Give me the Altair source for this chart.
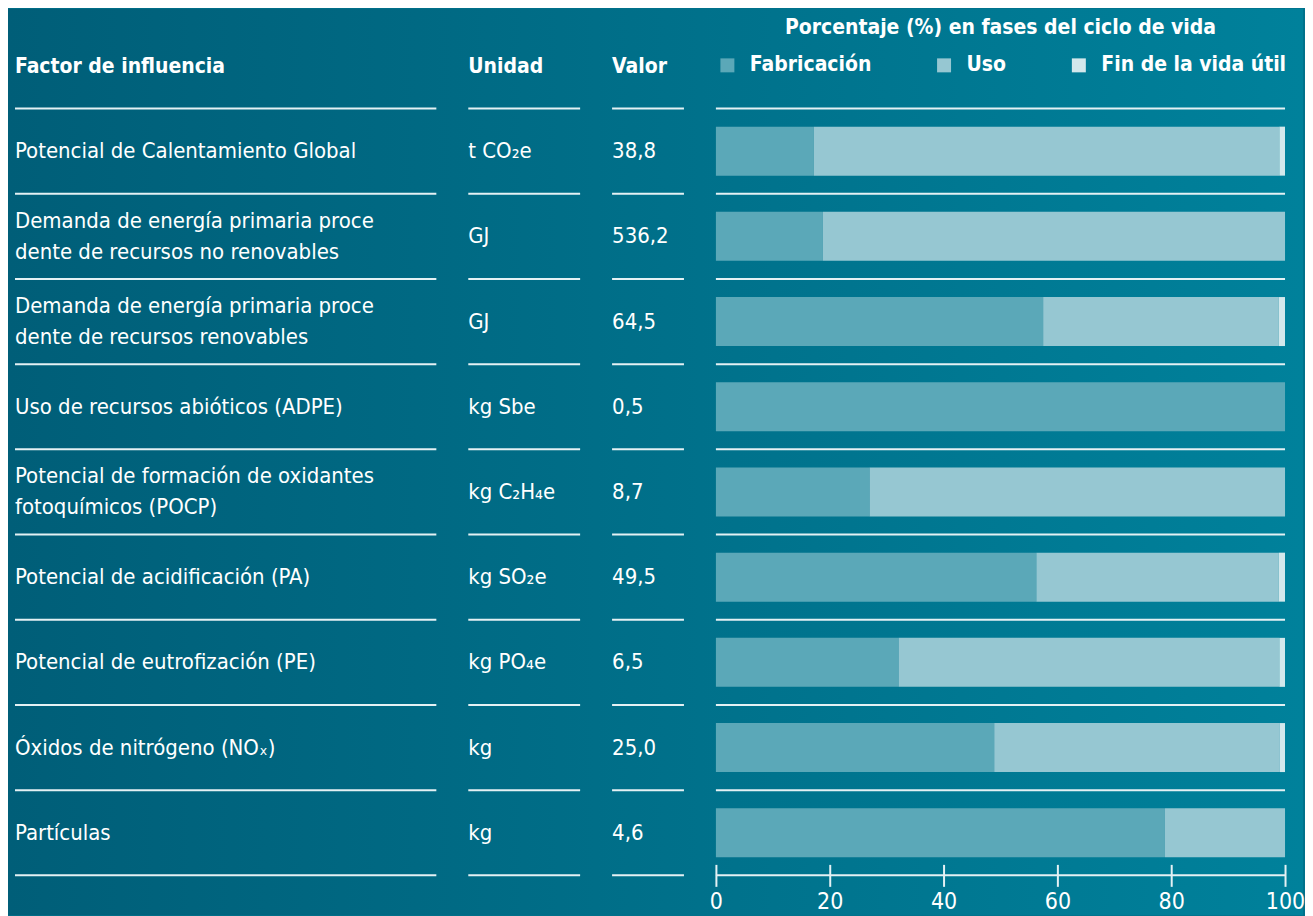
import altair as alt
import pandas as pd

# ---------------- data ----------------
factors = [
    "Potencial de Calentamiento Global",
    "Demanda de energía primaria proce\ndente de recursos no renovables",
    "Demanda de energía primaria proce\ndente de recursos renovables",
    "Uso de recursos abióticos (ADPE)",
    "Potencial de formación de oxidantes\nfotoquímicos (POCP)",
    "Potencial de acidificación (PA)",
    "Potencial de eutrofización (PE)",
    "Óxidos de nitrógeno (NOₓ)",
    "Partículas",
]
units = ["t CO₂e", "GJ", "GJ", "kg Sbe", "kg C₂H₄e", "kg SO₂e", "kg PO₄e", "kg", "kg"]
values = ["38,8", "536,2", "64,5", "0,5", "8,7", "49,5", "6,5", "25,0", "4,6"]
fab = [17.2, 18.8, 57.5, 100.0, 27.0, 56.3, 32.1, 48.9, 78.9]
uso = [81.8, 81.2, 41.4, 0.0, 73.0, 42.6, 66.9, 50.2, 21.1]
fin = [1.0, 0.0, 1.1, 0.0, 0.0, 1.1, 1.0, 0.9, 0.0]
phases = ["Fabricación", "Uso", "Fin de la vida útil"]
phase_colors = ["#5BA8B8", "#96C7D2", "#D3E8EC"]
tick_values = [0, 20, 40, 60, 80, 100]
headers = ["Factor de influencia", "Unidad", "Valor"]
bar_title = "Porcentaje (%) en fases del ciclo de vida"

# ---------------- style ----------------
FONT = "'Liberation Sans Narrow', 'DejaVu Sans Condensed', 'Roboto Condensed', sans-serif"
FS = 22
HFS = 21
LH = 31
LINE = "#E4F1F4"
N = len(factors)
H = 768
TOP = 100
BOTTOM = 40
PAGE_W = 1313
PAGE_R = 1305
LEFT_C = (0x00, 0x5E, 0x78)
RIGHT_C = (0x00, 0x81, 0x9B)


def col(px):
    t = px / PAGE_W
    return "#%02x%02x%02x" % tuple(round(a + (b - a) * t) for a, b in zip(LEFT_C, RIGHT_C))


rows = pd.DataFrame({"row": list(range(N)), "factor": factors, "unit": units, "value": values})
long = pd.DataFrame(
    [
        {"row": i, "phase": p, "k": k, "pct": v}
        for i in range(N)
        for k, (p, v) in enumerate(zip(phases, [fab[i], uso[i], fin[i]]))
        if v > 0
    ]
)
one = pd.DataFrame({"a": [0]})

yscale = alt.Scale(paddingInner=0, paddingOuter=0)


def background(page_left, plot_left, page_right):
    grad = alt.LinearGradient(
        gradient="linear",
        stops=[
            alt.GradientStop(offset=0, color=col(page_left)),
            alt.GradientStop(offset=1, color=col(page_right)),
        ],
        x1=0, x2=1, y1=0, y2=0,
    )
    return alt.Chart(one).mark_rect(color=grad).encode(
        x=alt.value(page_left - plot_left),
        x2=alt.value(page_right - plot_left),
        y=alt.value(-TOP),
        y2=alt.value(H + BOTTOM),
    )


def separators(width):
    base = alt.Chart(rows).mark_rule(color=LINE, strokeWidth=2)
    top = base.encode(
        x=alt.value(0), x2=alt.value(width),
        y=alt.Y("row:O", bandPosition=0, axis=None, scale=yscale),
    )
    bottom = base.transform_filter(alt.datum.row == N - 1).encode(
        x=alt.value(0), x2=alt.value(width),
        y=alt.Y("row:O", bandPosition=1, axis=None, scale=yscale),
    )
    return top, bottom


def header(text, align, x, y):
    return alt.Chart(one).mark_text(
        align=align, baseline="alphabetic", font=FONT, fontSize=HFS, fontWeight="bold", color="white"
    ).encode(x=alt.value(x), y=alt.value(y), text=alt.value(text))


def text_layers(field):
    base = alt.Chart(rows).mark_text(
        align="left", baseline="middle", font=FONT, fontSize=FS, color="white",
        lineBreak="\n", lineHeight=LH,
    )
    enc = dict(
        x=alt.value(0),
        y=alt.Y("row:O", axis=None, scale=yscale),
        text=alt.Text(field + ":N"),
    )
    if field != "factor":
        return [base.encode(**enc)]
    single = base.transform_filter("indexof(datum.factor, '\\n') < 0").encode(**enc)
    multi = base.mark_text(
        align="left", baseline="middle", font=FONT, fontSize=FS, color="white",
        lineBreak="\n", lineHeight=LH, dy=-LH / 2,
    ).transform_filter("indexof(datum.factor, '\\n') >= 0").encode(**enc)
    return [single, multi]


def text_panel(field, width, head, page_left, plot_left, page_right):
    top, bottom = separators(width)
    return alt.layer(
        background(page_left, plot_left, page_right), top, bottom,
        *text_layers(field), header(head, "left", 0, -36),
    ).properties(width=width, height=H)


p1 = text_panel("factor", 422, headers[0], 8, 15, 454)
p2 = text_panel("unit", 112, headers[1], 452, 469, 598)
p3 = text_panel("value", 72, headers[2], 596, 613, 702)

bars = alt.Chart(long).mark_bar(height=alt.RelativeBandSize(band=0.575)).encode(
    x=alt.X(
        "pct:Q", stack="zero",
        scale=alt.Scale(domain=[0, 100], nice=False),
        axis=alt.Axis(
            values=tick_values, domain=False, grid=False, tickColor=LINE, tickWidth=2,
            tickSize=22, offset=-11, labelFont=FONT, labelFontSize=23, labelColor="white",
            labelPadding=4, labelFlush=False, title=None, zindex=1,
        ),
    ),
    y=alt.Y("row:O", axis=None, scale=yscale),
    color=alt.Color(
        "phase:N",
        scale=alt.Scale(domain=phases, range=phase_colors),
        legend=alt.Legend(
            title=None, orient="none", legendX=1, legendY=-54, direction="horizontal",
            symbolType="square", symbolSize=196, symbolStrokeWidth=0, symbolOpacity=1,
            labelFont=FONT, labelFontSize=HFS, labelFontWeight="bold", labelColor="white",
            labelOffset=12, labelLimit=400, columnPadding=62,
        ),
    ),
    order=alt.Order("k:Q"),
)
t4, b4 = separators(570)
p4 = alt.layer(
    background(700, 717, PAGE_R), t4, b4, bars, header(bar_title, "center", 285, -75)
).properties(width=570, height=H)

chart = (
    alt.hconcat(p1, p2, p3, p4, spacing=32, bounds="flush")
    .resolve_legend(color="independent")
    .properties(padding=0, background=col(700))
    .configure_view(strokeWidth=0)
)

chart.save("out.html", embed_options={"renderer": "svg", "actions": False})
